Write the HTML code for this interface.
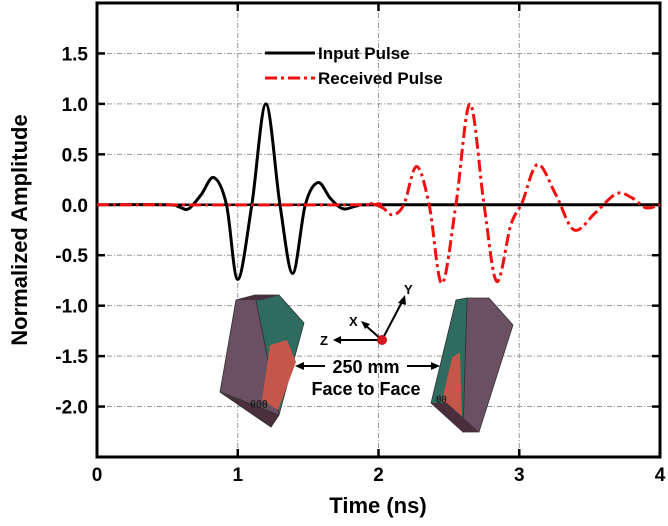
<!DOCTYPE html>
<html><head><meta charset="utf-8"><style>
html,body{margin:0;padding:0;background:#fff;}
svg{display:block;font-family:"Liberation Sans",Arial,sans-serif;}
svg text{font-weight:bold;}
</style></head><body>
<svg id="chart" width="668" height="526" viewBox="0 0 668 526" xmlns="http://www.w3.org/2000/svg">
<g id="grid"></g>
<g id="inset">
  <g>
    <polygon points="255,295 236,300 220,392 271,427 279,415" fill="#6b4f62" stroke="#333" stroke-width="0.8"/>
    <polygon points="255,295 279,295 304,323 279,415" fill="#2f6b5e" stroke="#333" stroke-width="0.8"/>
    <polygon points="270,345 287,340 296,362 278,410 262,400" fill="#c4574a"/>
    <polygon points="220,392 271,427 279,415 236,398" fill="#4a2e3c" stroke="#333" stroke-width="0.8"/>
    <polygon points="236,300 255,295 279,295 262,300" fill="#4a2e3c"/>
    <text x="250" y="408" font-size="11" fill="#222">θθθ</text>
  </g>
  <g>
    <polygon points="467,298 489,298 513,325 479,432 463,432" fill="#6b4f62" stroke="#333" stroke-width="0.8"/>
    <polygon points="467,298 463,432 431,403 456,300" fill="#2f6b5e" stroke="#333" stroke-width="0.8"/>
    <polygon points="452,358 460,352 462,425 442,400" fill="#c4574a"/>
    <polygon points="431,403 463,432 479,432 447,403" fill="#4a2e3c"/>
    <text x="436" y="403" font-size="10" fill="#222">θθ</text>
  </g>
  <g stroke="#000" stroke-width="2" fill="#000">
    <line x1="382" y1="340" x2="403" y2="300"/>
    <polygon points="405,295 398,303 406,305" stroke="none"/>
    <line x1="382" y1="340" x2="365" y2="325"/>
    <polygon points="361,321 370,324 365,329" stroke="none"/>
    <line x1="382" y1="340" x2="338" y2="340"/>
    <polygon points="333,340 341,336 341,344" stroke="none"/>
    <circle cx="382" cy="340" r="5" fill="#d0191c" stroke="none"/>
    <text x="404" y="294" font-size="13" stroke="none">Y</text>
    <text x="349" y="326" font-size="13" stroke="none">X</text>
    <text x="320" y="345" font-size="13" stroke="none">Z</text>
  </g>
  <g>
    <line x1="300" y1="366" x2="325" y2="366" stroke="#000" stroke-width="2"/>
    <polygon points="295,366 304,362 304,370" fill="#000"/>
    <line x1="407" y1="366" x2="435" y2="366" stroke="#000" stroke-width="2"/>
    <polygon points="440,366 431,362 431,370" fill="#000"/>
    <text x="366" y="373" font-size="18" text-anchor="middle">250 mm</text>
    <text x="366" y="395" font-size="18" text-anchor="middle">Face to Face</text>
  </g>
</g>
<g id="axes"></g>
<g id="series"></g>
<g>
  <line x1="265" y1="53" x2="315" y2="53" stroke="#000" stroke-width="3"/>
  <text x="318" y="59" font-size="17">Input Pulse</text>
  <line x1="265" y1="78" x2="315" y2="78" stroke="#f01010" stroke-width="3" stroke-dasharray="12,4,3,4"/>
  <text x="318" y="84" font-size="17">Received Pulse</text>
</g>
<text x="378" y="513" font-size="22" text-anchor="middle">Time (ns)</text>
<text x="27" y="230" font-size="22" text-anchor="middle" transform="rotate(-90 27 230)">Normalized Amplitude</text>
</svg>
<script>
const xTicks = [0, 1, 2, 3, 4];
const yTicks = [1.5, 1.0, 0.5, 0.0, -0.5, -1.0, -1.5, -2.0];
const inputT = [0, 0.5, 0.58, 0.65, 0.74, 0.83, 0.92, 1.0, 1.1, 1.2, 1.3, 1.39, 1.48, 1.57, 1.66, 1.75, 1.85, 2.0, 4.0];
const inputV = [0, 0, -0.02, -0.04, 0.1, 0.27, 0.0, -0.74, 0.0, 1.0, 0.0, -0.68, 0.0, 0.22, 0.06, -0.04, -0.01, 0, 0];
const recvT = [0, 1.85, 1.95, 2.03, 2.1, 2.18, 2.27, 2.36, 2.45, 2.55, 2.65, 2.75, 2.84, 2.94, 3.02, 3.13, 3.26, 3.39, 3.54, 3.69, 3.8, 3.9, 4.0];
const recvV = [0, 0, 0.01, -0.03, -0.1, 0.0, 0.38, 0.0, -0.78, 0.0, 1.0, 0.0, -0.76, -0.2, 0.02, 0.4, 0.1, -0.25, -0.08, 0.11, 0.07, -0.03, 0];
const NS = 'http://www.w3.org/2000/svg';
const L = 97, R = 660, T = 3, B = 457;
const X = t => L + (t - 0) / 4 * (R - L);
const Y = v => T + (2.0 - v) / 4.5 * (B - T);
function mk(tag, attrs, parent) { const e = document.createElementNS(NS, tag); for (const k in attrs) e.setAttribute(k, attrs[k]); parent.appendChild(e); return e; }
const grid = document.getElementById('grid');
xTicks.slice(1, -1).forEach(t => {
  const g = mk('line', {x1: X(t), x2: X(t), y1: T, y2: B, stroke: '#999', 'stroke-width': 1, 'stroke-dasharray': '5,2,1,2'}, grid);
  
  
});
yTicks.forEach(v => {
  const g = mk('line', {x1: L, x2: R, y1: Y(v), y2: Y(v), stroke: '#999', 'stroke-width': 1, 'stroke-dasharray': '5,2,1,2'}, grid);
  
  
});
function pathFrom(ts, vs) {
  const p = ts.map((t, i) => [X(t), Y(vs[i])]);
  let d = 'M' + p[0][0] + ',' + p[0][1];
  for (let i = 0; i < p.length - 1; i++) {
    const p0 = p[Math.max(0, i - 1)], p1 = p[i], p2 = p[i + 1], p3 = p[Math.min(p.length - 1, i + 2)];
    const c1 = [p1[0] + (p2[0] - p0[0]) / 6, p1[1] + (p2[1] - p0[1]) / 6];
    const c2 = [p2[0] - (p3[0] - p1[0]) / 6, p2[1] - (p3[1] - p1[1]) / 6];
    d += ' C' + c1[0] + ',' + c1[1] + ' ' + c2[0] + ',' + c2[1] + ' ' + p2[0] + ',' + p2[1];
  }
  return d;
}
const axes = document.getElementById('axes');
const zl = mk('line', {x1: L, x2: R, y1: Y(0), y2: Y(0), stroke: '#000', 'stroke-width': 2.5}, axes);


const frame = mk('rect', {x: L, y: T, width: R - L, height: B - T, fill: 'none', stroke: '#000', 'stroke-width': 3}, axes);


xTicks.forEach(t => {
  mk('line', {x1: X(t), x2: X(t), y1: B, y2: B - 8, stroke: '#000', 'stroke-width': 2.5}, axes);
  mk('line', {x1: X(t), x2: X(t), y1: T, y2: T + 8, stroke: '#000', 'stroke-width': 2.5}, axes);
  const lb = mk('text', {x: X(t), y: B + 24, 'font-size': 19, 'text-anchor': 'middle'}, axes);
  lb.textContent = String(t);
  
  
});
yTicks.forEach(v => {
  mk('line', {x1: L, x2: L + 8, y1: Y(v), y2: Y(v), stroke: '#000', 'stroke-width': 2.5}, axes);
  mk('line', {x1: R, x2: R - 8, y1: Y(v), y2: Y(v), stroke: '#000', 'stroke-width': 2.5}, axes);
  const lb = mk('text', {x: L - 9, y: Y(v) + 7, 'font-size': 19, 'text-anchor': 'end'}, axes);
  lb.textContent = v.toFixed(1);
  
  
});
const series = document.getElementById('series');
const inp = mk('path', {d: pathFrom(inputT, inputV), fill: 'none', stroke: '#000', 'stroke-width': 3}, series);


const rec = mk('path', {d: pathFrom(recvT, recvV), fill: 'none', stroke: '#f01010', 'stroke-width': 3, 'stroke-dasharray': '12,4,3,4'}, series);


</script>
</body></html>
